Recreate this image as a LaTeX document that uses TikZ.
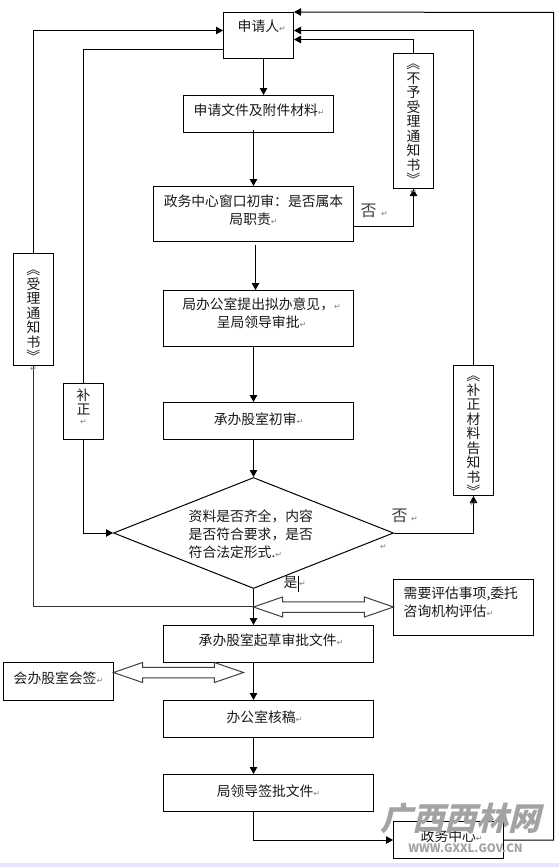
\documentclass[tikz,border=0pt]{standalone}
\usepackage{fontspec}
\usetikzlibrary{shapes.geometric,shapes.arrows,arrows.meta}
\setmainfont{Noto Sans CJK SC}
\newfontfamily\markfont{DejaVu Sans}
\newfontfamily\wmfont[FakeSlant=0.25]{Noto Sans CJK SC}
\newcommand{\mk}{{\markfont\fontsize{8}{8}\selectfont\textcolor{gray}{↵}}}
\tikzset{
  x=1pt,y=-1pt,
  box/.style={draw=black,line width=1pt,fill=white,inner sep=0pt},
  txt/.style={inner sep=0pt,font=\fontsize{13.8}{18}\selectfont,text=black!90},
  lefttxt/.style={txt,anchor=west},
  vtxt/.style={txt,align=center},
  flow/.style={draw=black,line width=1pt,-{Triangle[length=7pt,width=7.5pt]}},
  plain/.style={draw=black,line width=1pt},
  dblarrow/.style={draw=black!75,line width=1pt,fill=white,shape=double arrow,inner xsep=0pt,inner ysep=4.75pt,double arrow head extend=4.75pt,double arrow tip angle=38},
  nomark/.style={inner sep=0pt,font=\fontsize{16}{16}\selectfont,text=black!75},
  wm/.style={inner sep=0pt,text=black!36},
}
\newcommand{\bx}[5]{\node[box,minimum width=#4-#2,minimum height=#5-#3] (#1) at ({(#2+#4)/2},{(#3+#5)/2}) {};}
\newcommand{\bq}[1]{\rotatebox[origin=c]{-90}{#1}}
\newcommand{\vstack}[1]{\parbox{16pt}{\centering\fontsize{13.8}{14.5}\selectfont\lineskiplimit=-100pt\baselineskip=14.5pt #1\par}}
\begin{document}
\begin{tikzpicture}
\useasboundingbox (0,0) rectangle (559,867);
\fill[white] (0,0) rectangle (559,867);
\fill[blue!10] (0,863) rectangle (559,867);
\begin{scope}[shift={(0.5,0.5)}]
% boxes
\bx{app}{223}{12}{293}{58}
\bx{docs}{183}{95}{333}{132}
\bx{win}{153}{186}{353}{241}
\bx{off}{163}{290}{353}{346}
\bx{first}{163}{402}{353}{439}
\node[draw=black,line width=1pt,fill=white,shape=diamond,shape aspect=2.5,inner sep=0pt,minimum width=280pt,minimum height=111pt] (dia) at (253,532.5) {};
\bx{draft}{163}{625}{373}{662}
\bx{sign}{3}{662}{113}{700}
\bx{check}{163}{700}{373}{737}
\bx{lead}{163}{774}{373}{811}
\bx{center}{393}{821}{503}{858}
\bx{accept}{13}{253}{53}{365}
\bx{fix}{63}{383}{103}{439}
\bx{refuse}{393}{53}{433}{188}
\bx{notice}{453}{365}{493}{495}
\bx{eval}{393}{579}{533}{635}
% free coordinates
\coordinate (split) at (253,606);
\coordinate (rt) at (553,12);
% main flow
\draw[flow] ([xshift=5pt]app.south) -- ([xshift=5pt]docs.north);
\draw[flow] ([xshift=-5pt,yshift=3pt]docs.south) -- (win.north);
\draw[flow] ([xshift=2pt,yshift=-3pt]win.south) -- ([xshift=-3pt]off.north);
\draw[flow] ([xshift=-5pt]off.south) -- ([xshift=-5pt]first.north);
\draw[flow] ([xshift=-5pt]first.south) -- (dia.north);
\draw[flow] (dia.south) -- ([xshift=-15pt]draft.north);
\draw[flow] ([xshift=-15pt]draft.south) -- ([xshift=-15pt]check.north);
\draw[flow] ([xshift=-15pt]check.south) -- ([xshift=-15pt]lead.north);
\draw[flow] ([xshift=-15pt]lead.south) |- (center.west);
% returns
\draw[flow] (center.east) -| (rt) -- (app.north east);
\draw[flow] (notice.north) |- ([yshift=5pt]app.east);
\draw[flow] (refuse.north) |- ([yshift=-4pt]app.east);
\draw[flow] ([yshift=-12.5pt]win.east) -| (refuse.south);
\draw[flow] (dia.east) -| (notice.south);
\draw[flow] (accept.north) |- ([yshift=5pt]app.west);
\draw[plain] (fix.north) |- ([yshift=-14pt]app.west);
\draw[flow] (fix.south) |- (dia.west);
\draw[plain,draw=black!80] (split) -| (accept.south);
% double arrows
\node[dblarrow,minimum height=140pt] (dblA) at (323,606.5) {};
\node[dblarrow,minimum height=130pt] (dblB) at (178,672) {};
% texts
\node[lefttxt] (t1) at (237,26) {申请人\mk};
\node[lefttxt] (t2) at (193,110) {申请文件及附件材料\mk};
\node[txt,align=center] (t3) at (253,210) {政务中心窗口初审：是否属本\\局职责\mk};
\node[txt,align=center] (t4) at (261,313) {局办公室提出拟办意见，\mk\\呈局领导审批\mk};
\node[txt] (t5) at (258,419) {承办股室初审\mk};
\node[txt,align=left,anchor=west] (t6) at (188,534) {资料是否齐全，内容\\是否符合要求，是否\\符合法定形式.\mk};
\node[lefttxt] (t7) at (198,640) {承办股室起草审批文件\mk};
\node[lefttxt] (t8) at (13,678) {会办股室会签\mk};
\node[txt] (t9) at (264,717) {办公室核稿\mk};
\node[txt] (t10) at (268,791) {局领导签批文件\mk};
\node[lefttxt] (t11) at (420,836) {政务中心\mk};
\node[txt,align=left,anchor=west] (t12) at (403,602) {需要评估事项,委托\\咨询机构评估\mk};
\node[vtxt,anchor=north] (v1) at (33,262) {\vstack{\bq{《}\\受\\理\\通\\知\\书\\\bq{》}\\[-5pt]\mk}};
\node[vtxt,anchor=north] (v2) at (83,388) {\vstack{补\\正\\[-5pt]\mk}};
\node[vtxt,anchor=north] (v3) at (413,56) {\vstack{\bq{《}\\不\\予\\受\\理\\通\\知\\书\\\bq{》}\\[-5pt]\mk}};
\node[vtxt,anchor=north] (v4) at (473,368) {\vstack{\bq{《}\\补\\正\\材\\料\\告\\知\\书\\\bq{》}\\[-5pt]\mk}};
\node[nomark] (n1) at (368,210) {否};
\node[inner sep=0pt] (m1) at (384,213) {\mk};
\node[nomark] (n2) at (399,515) {否};
\node[inner sep=0pt] (m2) at (414,518) {\mk};
\node[inner sep=0pt] (m3) at (383,546) {\mk};
\node[txt] (n3) at (290,582) {是};
\coordinate (curA) at (298,575);
\coordinate (curB) at (298,591);
\draw[black,line width=1.3pt] (curA) -- (curB);
\node[inner sep=0pt] (m4) at (302,583) {\mk};
% watermark
\node[wm,font=\wmfont\bfseries\fontsize{32}{32}\selectfont] (w1) at (460,818) {广西西林网};
\node[wm,font=\bfseries\fontsize{11.5}{11.5}\selectfont] (w2) at (465,848) {WWW.GXXL.GOV.CN};
\end{scope}
\end{tikzpicture}
\end{document}
